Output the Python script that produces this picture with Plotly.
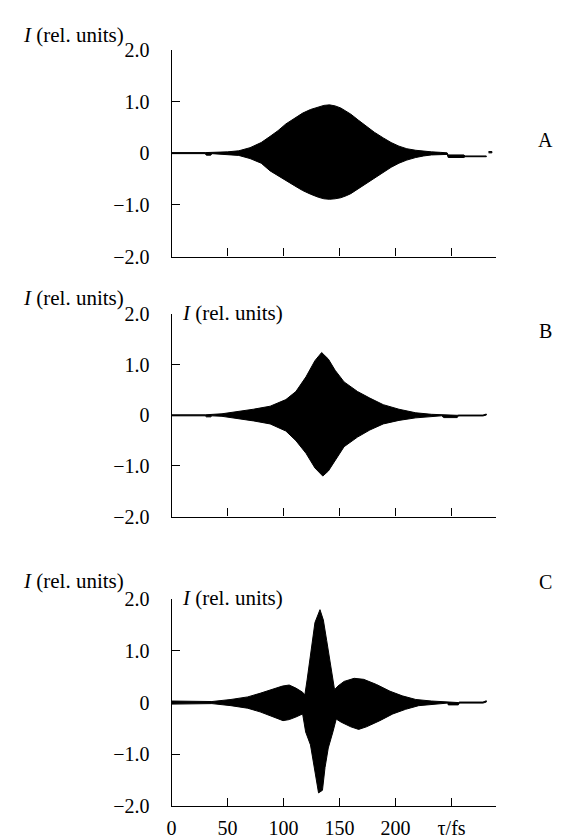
import plotly.graph_objects as go

# ---------------- data (envelopes) ----------------
# Panel A
a_up_t = [0, 30, 50, 60, 70, 80, 88, 95, 102, 110, 117, 124, 131, 136, 141, 146, 151, 156, 160, 167, 174, 181, 189, 196, 203, 210, 218, 225, 232, 240, 246, 247, 261, 262, 281]
a_up   = [0.015, 0.015, 0.03, 0.05, 0.11, 0.21, 0.33, 0.44, 0.57, 0.68, 0.78, 0.85, 0.90, 0.93, 0.94, 0.92, 0.88, 0.82, 0.76, 0.64, 0.52, 0.41, 0.30, 0.21, 0.14, 0.09, 0.06, 0.04, 0.03, 0.02, 0.01, -0.03, -0.03, -0.05, -0.05]
a_lo_t = [0, 30, 31, 35, 36, 50, 60, 70, 80, 88, 95, 102, 110, 117, 124, 131, 136, 141, 146, 151, 156, 160, 167, 174, 181, 189, 196, 203, 210, 218, 225, 232, 240, 246, 247, 261, 262, 281]
a_lo   = [-0.005, -0.005, -0.035, -0.035, -0.005, -0.02, -0.04, -0.10, -0.19, -0.34, -0.44, -0.53, -0.63, -0.72, -0.79, -0.85, -0.88, -0.89, -0.88, -0.86, -0.82, -0.78, -0.69, -0.59, -0.48, -0.37, -0.27, -0.19, -0.13, -0.08, -0.05, -0.03, -0.02, -0.02, -0.08, -0.08, -0.065, -0.065]
a_end_t = [283, 286]
a_end_up = [0.035, 0.035]
a_end_lo = [0.01, 0.01]

# Panel B
b_up_t = [0, 30, 45, 59, 73, 88, 102, 111, 120, 128, 134, 140, 146, 154, 166, 177, 189, 203, 218, 232, 241, 243, 255, 256, 278, 281]
b_up   = [0.01, 0.01, 0.03, 0.07, 0.12, 0.18, 0.31, 0.47, 0.76, 1.08, 1.24, 1.11, 0.89, 0.66, 0.47, 0.34, 0.21, 0.12, 0.05, 0.02, 0.01, 0.0, 0.0, 0.005, 0.005, 0.025]
b_lo_t = [0, 30, 31, 35, 36, 45, 59, 73, 88, 102, 111, 120, 128, 135, 140, 146, 154, 166, 177, 189, 203, 218, 232, 241, 243, 255, 256, 278, 281]
b_lo   = [-0.01, -0.01, -0.03, -0.03, -0.01, -0.02, -0.06, -0.11, -0.17, -0.31, -0.50, -0.75, -1.04, -1.20, -1.10, -0.88, -0.62, -0.43, -0.29, -0.17, -0.10, -0.05, -0.02, -0.01, -0.045, -0.045, -0.012, -0.012, 0.005]

# Panel C
c_up_t = [0, 36, 53, 68, 79, 91, 99, 105, 111, 117, 119, 121, 124, 128, 132.5, 135.5, 138.5, 142.5, 145.5, 148.5, 154, 163, 171.5, 183, 195, 206, 218, 232, 246, 247, 256, 257, 278, 281]
c_up   = [0.03, 0.02, 0.06, 0.11, 0.18, 0.27, 0.32, 0.34, 0.28, 0.20, 0.15, 0.44, 0.95, 1.55, 1.80, 1.60, 1.20, 0.66, 0.25, 0.32, 0.41, 0.47, 0.45, 0.35, 0.22, 0.13, 0.06, 0.03, 0.01, 0.0, 0.0, 0.01, 0.01, 0.035]
c_lo_t = [0, 36, 53, 68, 79, 91, 99.5, 105, 111, 117, 119.7, 124, 128.3, 131.2, 134.7, 137, 139.9, 144, 147, 151.4, 160, 167, 174, 186, 197.5, 209, 220.6, 235, 246.5, 247, 256, 257, 278, 281]
c_lo   = [-0.03, -0.02, -0.06, -0.11, -0.18, -0.28, -0.35, -0.33, -0.28, -0.22, -0.57, -0.82, -1.39, -1.75, -1.70, -1.26, -0.88, -0.57, -0.32, -0.38, -0.47, -0.52, -0.47, -0.35, -0.22, -0.13, -0.06, -0.03, -0.01, -0.045, -0.045, -0.01, -0.01, 0.01]

y_tickvals = [-2, -1, 0, 1, 2]
y_ticktext = ["\u22122.0", "\u22121.0", "0", "1.0", "2.0"]
x_tickvals = [0, 50, 100, 150, 200, 250]
x_ticktext = ["0", "50", "100", "150", "200", "\u03c4/fs"]
panel_names = ["A", "B", "C"]
y_label = "<i>I</i> (rel. units)"

# ---------------- layout geometry ----------------
W, H = 567, 838
FONT = "Liberation Serif"
FS = 20
FS_LABEL = 21
x_left_px = 160
px_per_fs = 1.13
x_max = 290
x_right_px = x_left_px + x_max * px_per_fs
panels_px = [(32, 244), (303, 511), (596, 808)]  # (y of 2.0, y of -2.0)

fig = go.Figure()

def envelope(xu, yu, xl, yl, xa, ya):
    fig.add_trace(go.Scatter(
        x=list(xu) + list(xl)[::-1], y=list(yu) + list(yl)[::-1],
        mode="lines", fill="toself", fillcolor="black",
        line=dict(color="black", width=1), xaxis=xa, yaxis=ya,
        hoverinfo="skip", showlegend=False))

envelope(a_up_t, a_up, a_lo_t, a_lo, "x", "y")
envelope(a_end_t, a_end_up, a_end_t, a_end_lo, "x", "y")
envelope(b_up_t, b_up, b_lo_t, b_lo, "x2", "y2")
envelope(c_up_t, c_up, c_lo_t, c_lo, "x3", "y3")

xdom = [x_left_px / W, x_right_px / W]
axis_common = dict(showline=True, linecolor="black", linewidth=1.3, showgrid=False,
                   zeroline=False, ticks="inside", tickcolor="black", tickwidth=1.2,
                   ticklen=8, tickfont=dict(family=FONT, size=FS, color="black"))

layout = dict(width=W, height=H, margin=dict(l=0, r=0, t=0, b=0),
              paper_bgcolor="white", plot_bgcolor="white", showlegend=False)

for i, (top, bot) in enumerate(panels_px):
    sfx = "" if i == 0 else str(i + 1)
    ydom = [1 - bot / H, 1 - top / H]
    layout["xaxis" + sfx] = dict(axis_common, domain=xdom, range=[0, x_max],
                                 anchor="y" + sfx, tickvals=x_tickvals,
                                 ticktext=x_ticktext if i == 2 else [""] * len(x_tickvals),
                                 showticklabels=(i == 2), ticklabelstandoff=4)
    layout["yaxis" + sfx] = dict(axis_common, domain=ydom, range=[-2, 2],
                                 anchor="x" + sfx, tickvals=y_tickvals,
                                 ticktext=y_ticktext, ticklabelstandoff=17)

fig.update_layout(**layout)

ann = []
label_y = [16, 287, 577]
letter_y = [124, 320, 578]
for i, (top, bot) in enumerate(panels_px):
    ann.append(dict(text=y_label, x=114 / W, y=1 - label_y[i] / H, xref="paper", yref="paper",
                    xanchor="right", yanchor="middle", showarrow=False,
                    font=dict(family=FONT, size=FS_LABEL, color="black")))
    ann.append(dict(text=panel_names[i], x=537 / W, y=1 - letter_y[i] / H, xref="paper", yref="paper",
                    xanchor="center", yanchor="middle", showarrow=False,
                    font=dict(family=FONT, size=FS, color="black")))
    if i > 0:
        ann.append(dict(text=y_label, x=(x_left_px + 8) / W, y=1 - (top - 1) / H, xref="paper", yref="paper",
                        xanchor="left", yanchor="middle", showarrow=False,
                        font=dict(family=FONT, size=FS_LABEL, color="black")))
fig.update_layout(annotations=ann)

fig.write_html("out.html")
